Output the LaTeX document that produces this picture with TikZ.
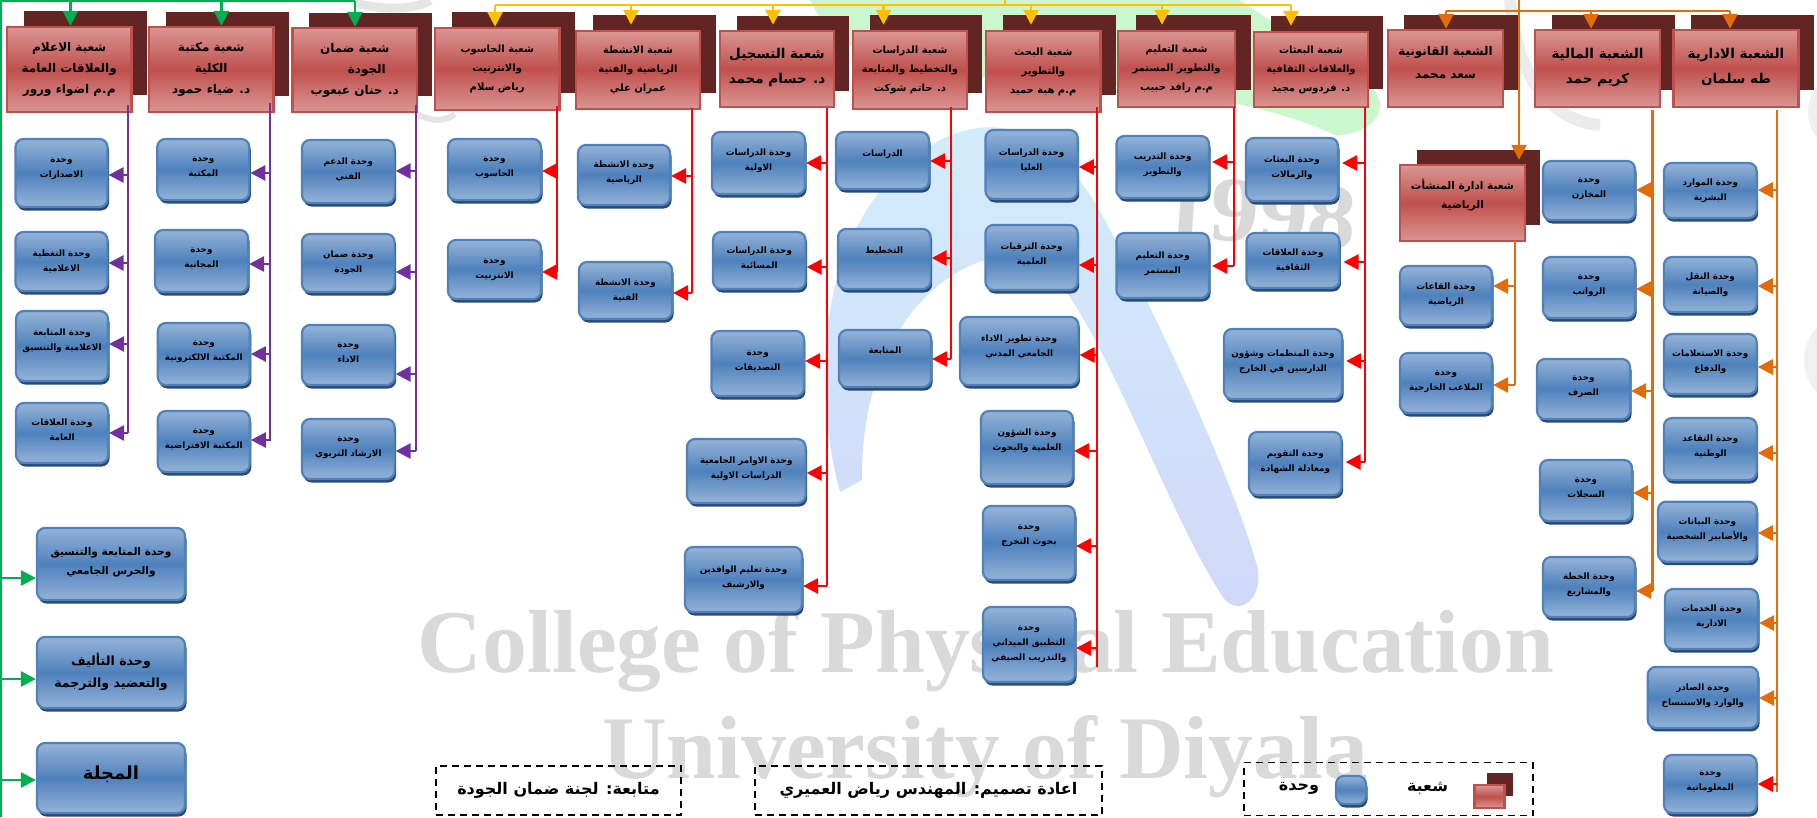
\documentclass[tikz,border=0pt]{standalone}
\usepackage{fontspec}
\usetikzlibrary{arrows.meta,shadows}
\TeXXeTstate=1
\newfontfamily\arabicfont[Script=Arabic]{DejaVu Sans}
\newfontfamily\markfont{Liberation Serif}
\newcommand{\ar}[1]{\beginR #1\endR}
\newcommand{\lift}[1]{\\[\dimexpr #1pt*2-\baselineskip\relax]\mbox{}}
\definecolor{secback}{HTML}{632523}
\definecolor{secedge}{HTML}{C0504D}
\definecolor{seclight}{HTML}{DA9694}
\definecolor{unitedge}{HTML}{4F81BD}
\definecolor{unitlight}{HTML}{95B3D7}
\definecolor{unitdark}{HTML}{2A4A72}
\definecolor{markgray}{HTML}{D9D9D9}
\definecolor{markgreen}{HTML}{CBF7CF}
\definecolor{markcyan}{HTML}{D3EDFB}
\definecolor{markblue}{HTML}{D0D8F9}
\definecolor{linegreen}{HTML}{00B050}
\definecolor{lineyellow}{HTML}{FFC000}
\definecolor{linepurple}{HTML}{7030A0}
\definecolor{lineorange}{HTML}{E36C0A}
\tikzset{
  secbox/.style 2 args={draw=secedge,line width=2.4pt,top color=seclight,bottom color=seclight,middle color=secedge,
    minimum width=#1,minimum height=#2,inner sep=0pt,align=center,text=black,font=\arabicfont\bfseries\fontsize{10}{19}\selectfont},
  secbig/.style={font=\arabicfont\bfseries\fontsize{12}{21}\selectfont},
  sechuge/.style={font=\arabicfont\bfseries\fontsize{13.5}{25}\selectfont},
  unitbox/.style 2 args={draw=unitedge,line width=2.2pt,rounded corners=8pt,top color=unitlight,bottom color=unitlight,middle color=unitedge,
    copy shadow={shadow xshift=1.5pt,shadow yshift=-3.5pt,fill=unitdark,draw=none,opacity=1},
    minimum width=#1,minimum height=#2,inner sep=0pt,align=center,text=black,font=\arabicfont\bfseries\fontsize{8.8}{15}\selectfont},
  dashbox/.style 2 args={draw=black,line width=1.7pt,dash pattern=on 7pt off 5pt,minimum width=#1,minimum height=#2,
    inner sep=0pt,font=\arabicfont\bfseries\fontsize{16}{18}\selectfont},
  legtext/.style={font=\arabicfont\bfseries\fontsize{16}{18}\selectfont},
  marktext/.style={text=markgray,anchor=base,font=\markfont\bfseries\fontsize{89.5}{90}\selectfont},
  tiptri/.style={-{Triangle[length=15pt,width=15pt]}},
  trunk/.style={line width=2.1pt},
  stem/.style={line width=2.8pt,tiptri},
}
\begin{document}
\begin{tikzpicture}[x=1pt,y=-1pt,join=miter]
\useasboundingbox (0,0) rectangle (1817,817);
% faded logo behind the chart
\fill[markgreen] (810,0) .. controls (830,40) and (860,70) .. (1000,78) .. controls (1150,85) and (1260,100) .. (1335,135) .. controls (1370,135) and (1395,110) .. (1370,85) .. controls (1330,50) and (1280,30) .. (1240,0) -- cycle;
\shade[top color=markcyan,bottom color=markblue] (840,492) .. controls (810,380) and (815,210) .. (940,140) .. controls (1000,110) and (1060,130) .. (1110,230) .. controls (1170,340) and (1240,500) .. (1258,570) .. controls (1262,600) and (1240,615) .. (1225,600) .. controls (1170,520) and (1110,340) .. (1050,270) .. controls (1000,225) and (860,290) .. (862,480) -- cycle;
\fill[black!6] (1850,112) circle (42);
\fill[black!6] (1850,360) circle (46);
\draw[black!10,line width=9pt] (355,3) .. controls (390,12) and (420,8) .. (430,0);
\draw[black!10,line width=6pt] (416,113) .. controls (430,122) and (445,122) .. (455,114);
\draw[black!8,line width=12pt] (1510,0) .. controls (1515,60) and (1540,120) .. (1600,125);
\node[marktext,rotate=-4,xscale=1.05,font=\markfont\bfseries\fontsize{93}{93}\selectfont] (year) at (1257,243) {1998};
\node[marktext] (college) at (986,672) {College of Physical Education};
\node[marktext] (univ) at (985,778) {University of Diyala};
% dark backs of the sections
\foreach \xa/\ya/\xb/\yb in {24/11/147/95,166/12/289/96,309/13/432/96,452/12/575/93,593/15/716/93,737/16/849/91,870/15/982/93,1003/15/1116/95,1136/15/1251/90,1271/16/1383/89,1404/15/1518/90,1552/15/1675/90,1691/15/1814/90,1417/150/1540/225}
  \fill[secback] (\xa,\ya) rectangle (\xb,\yb);
% sections
\node[secbox={124.5}{85},secbig] (s1) at (69.2,69.5) {\ar{شعبة الاعلام}\\\ar{والعلاقات العامة}\\\ar{م.م اضواء ورور}};
\node[secbox={124.5}{85},secbig] (s2) at (211.2,69.5) {\ar{شعبة مكتبة}\\\ar{الكلية}\\\ar{د. ضياء حمود}};
\node[secbox={124.5}{84},secbig] (s3) at (354.8,70) {\ar{شعبة ضمان}\\\hspace{24pt}\ar{الجودة}\\\ar{د. حنان عبعوب}};
\node[secbox={124.5}{82}] (s4) at (497.2,69) {\ar{شعبة الحاسوب}\\\ar{والانترنيت}\\\ar{رياض سلام}};
\node[secbox={124}{78}] (s5) at (638,70) {\ar{شعبة الانشطة}\\\ar{الرياضية والفنية}\\\ar{عمران علي}};
\node[secbox={114}{76},sechuge] (s6) at (777,69) {\ar{شعبة التسجيل}\\\ar{د. حسام محمد}\lift{3}};
\node[secbox={114}{78}] (s7) at (910,70) {\ar{شعبة الدراسات}\\\ar{والتخطيط والمتابعة}\\\ar{د. حاتم شوكت}};
\node[secbox={114.6}{81}] (s8) at (1043.3,71.5) {\ar{شعبة البحث}\\\ar{والتطوير}\\\ar{م.م هبة حميد}};
\node[secbox={117}{76}] (s9) at (1176.5,69) {\ar{شعبة التعليم}\\\ar{والتطوير المستمر}\\\ar{م.م رافد حبيب}};
\node[secbox={114}{75}] (s10) at (1311,69.5) {\ar{شعبة البعثات}\\\ar{والعلاقات الثقافية}\\\ar{د. فردوس مجيد}};
\node[secbox={115}{77},font=\arabicfont\bfseries\fontsize{12}{23}\selectfont] (s11) at (1445.5,68.5) {\ar{الشعبة القانونية}\\\ar{سعد محمد}\lift{6}};
\node[secbox={125}{77},sechuge] (s12) at (1597.5,68.5) {\ar{الشعبة المالية}\\\ar{كريم حمد}\lift{3}};
\node[secbox={125}{77},sechuge] (s13) at (1736,68.5) {\ar{الشعبة الادارية}\\\ar{طه سلمان}\lift{3}};
\node[secbox={125}{76},font=\arabicfont\bfseries\fontsize{10.5}{19}\selectfont] (s14) at (1462.5,203) {\ar{شعبة ادارة المنشأت}\\\ar{الرياضية}\lift{9}};
% units under each section
\node[unitbox={92}{68}] (a1) at (61.5,173) {\ar{وحدة}\\\ar{الاصدارات}\lift{5}};
\node[unitbox={92}{59}] (a2) at (61.5,261.5) {\ar{وحدة التغطية}\\\ar{الاعلامية}\lift{1}};
\node[unitbox={92}{70}] (a3) at (62,346) {\ar{وحدة المتابعة}\\\ar{الاعلامية والتنسيق}\lift{6}};
\node[unitbox={92}{60}] (a4) at (62,433) {\ar{وحدة العلاقات}\\\ar{العامة}\lift{3}};
\node[unitbox={92}{61}] (b1) at (203.3,169.5) {\ar{وحدة}\\\ar{المكتبة}\lift{3}};
\node[unitbox={93}{62}] (b2) at (201.5,261) {\ar{وحدة}\\\ar{المجانية}\lift{3}};
\node[unitbox={92}{62}] (b3) at (203.8,354) {\ar{وحدة}\\\ar{المكتبة الالكترونية}\lift{3}};
\node[unitbox={92}{61}] (b4) at (203.8,441.5) {\ar{وحدة}\\\ar{المكتبة الافتراضية}\lift{3}};
\node[unitbox={92.6}{63}] (c1) at (348.3,171.5) {\ar{وحدة الدعم}\\\ar{الفني}\lift{3}};
\node[unitbox={92.6}{58}] (c2) at (348.3,263) {\ar{وحدة ضمان}\\\ar{الجودة}\lift{1}};
\node[unitbox={92.6}{60}] (c3) at (348.3,355) {\ar{وحدة}\\\ar{الاداء}\lift{2}};
\node[unitbox={92.6}{60}] (c4) at (348.3,449) {\ar{وحدة}\\\ar{الارشاد التربوي}\lift{2}};
\node[unitbox={93}{61}] (d1) at (494.5,169.5) {\ar{وحدة}\\\ar{الحاسوب}\lift{3}};
\node[unitbox={93}{59}] (d2) at (494.5,269.5) {\ar{وحدة}\\\ar{الانترنيت}\lift{1}};
\node[unitbox={92}{60}] (e1) at (624,175) {\ar{وحدة الانشطة}\\\ar{الرياضية}\lift{3}};
\node[unitbox={93}{57}] (e2) at (625.5,290.5) {\ar{وحدة الانشطة}\\\ar{الفنية}\lift{1}};
\node[unitbox={93}{62}] (f1) at (758.5,163) {\ar{وحدة الدراسات}\\\ar{الاولية}\lift{3}};
\node[unitbox={92.6}{57}] (f2) at (759.3,260.5) {\ar{وحدة الدراسات}\\\ar{المسائية}\lift{3}};
\node[unitbox={92.5}{65}] (f3) at (757.7,363.5) {\ar{وحدة}\\\ar{التصديقات}\lift{3}};
\node[unitbox={118.6}{64}] (f4) at (746.3,471) {\ar{وحدة الاوامر الجامعية}\\\ar{الدراسات الاولية}\lift{3}};
\node[unitbox={117}{65}] (f5) at (743.5,579.5) {\ar{وحدة تعليم الوافدين}\\\ar{والارشيف}\lift{3}};
\node[unitbox={93}{57}] (g1) at (882.5,160.5) {\ar{الدراسات}\lift{7}};
\node[unitbox={92.6}{60}] (g2) at (884.3,259) {\ar{التخطيط}\lift{9}};
\node[unitbox={92}{57}] (g3) at (885,358.5) {\ar{المتابعة}\lift{8}};
\node[unitbox={92.2}{69}] (h1) at (1031.6,164.5) {\ar{وحدة الدراسات}\\\ar{العليا}\lift{5}};
\node[unitbox={92.2}{65}] (h2) at (1031.6,257.5) {\ar{وحدة الترقيات}\\\ar{العلمية}\lift{4}};
\node[unitbox={118.5}{68}] (h3) at (1019.2,351) {\ar{وحدة تطوير الاداء}\\\ar{الجامعي المدني}\lift{5}};
\node[unitbox={92}{73}] (h4) at (1027,447.5) {\ar{وحدة الشؤون}\\\ar{العلمية والبحوث}\lift{8}};
\node[unitbox={92}{74}] (h5) at (1029,543) {\ar{وحدة}\\\ar{بحوث التخرج}\lift{8}};
\node[unitbox={92}{75}] (h6) at (1029,644.5) {\ar{وحدة}\\\ar{التطبيق الميداني}\\\ar{والتدريب الصيفي}\lift{1}};
\node[unitbox={92.6}{62}] (i1) at (1162.7,167) {\ar{وحدة التدريب}\\\ar{والتطوير}\lift{3}};
\node[unitbox={92.6}{65}] (i2) at (1162.7,265.5) {\ar{وحدة التعليم}\\\ar{المستمر}\lift{3}};
\node[unitbox={92}{63}] (j1) at (1292,169.5) {\ar{وحدة البعثات}\\\ar{والزمالات}\lift{3}};
\node[unitbox={92.9}{55}] (j2) at (1293,260.5) {\ar{وحدة العلاقات}\\\ar{الثقافية}\lift{1}};
\node[unitbox={118}{70}] (j3) at (1283,364) {\ar{وحدة المنظمات وشؤون}\\\ar{الدارسين في الخارج}\lift{3}};
\node[unitbox={92.5}{63}] (j4) at (1295.3,463.5) {\ar{وحدة التقويم}\\\ar{ومعادلة الشهادة}\lift{3}};
\node[unitbox={92}{59}] (k1) at (1446,295.5) {\ar{وحدة القاعات}\\\ar{الرياضية}\lift{2}};
\node[unitbox={92}{60}] (k2) at (1446,383) {\ar{وحدة}\\\ar{الملاعب الخارجية}\lift{2}};
\node[unitbox={92}{59}] (l1) at (1589,190.5) {\ar{وحدة}\\\ar{المخازن}\lift{3}};
\node[unitbox={92}{61}] (l2) at (1589,287.5) {\ar{وحدة}\\\ar{الرواتب}\lift{3}};
\node[unitbox={93}{60}] (l3) at (1583.5,389) {\ar{وحدة}\\\ar{الصرف}\lift{3}};
\node[unitbox={92}{61}] (l4) at (1586,490.5) {\ar{وحدة}\\\ar{السجلات}\lift{3}};
\node[unitbox={92}{60}] (l5) at (1589,587) {\ar{وحدة الخطة}\\\ar{والمشاريع}\lift{3}};
\node[unitbox={92.7}{55}] (m1) at (1710.3,190.5) {\ar{وحدة الموارد}\\\ar{البشرية}\lift{1}};
\node[unitbox={92.7}{55}] (m2) at (1710.3,284.5) {\ar{وحدة النقل}\\\ar{والصيانة}\lift{1}};
\node[unitbox={92.7}{60}] (m3) at (1710.3,364) {\ar{وحدة الاستعلامات}\\\ar{والدفاع}\lift{3}};
\node[unitbox={92.7}{62}] (m4) at (1710.3,449) {\ar{وحدة التقاعد}\\\ar{الوطنية}\lift{3}};
\node[unitbox={98.7}{60}] (m5) at (1707.4,531.7) {\ar{وحدة البيانات}\\\ar{والأضابير الشخصية}\lift{3}};
\node[unitbox={93}{60}] (m6) at (1711.5,619) {\ar{وحدة الخدمات}\\\ar{الادارية}\lift{3}};
\node[unitbox={110.3}{61}] (m7) at (1702.9,697.4) {\ar{وحدة الصادر}\\\ar{والوارد والاستنساخ}\lift{3}};
\node[unitbox={92.7}{58}] (m8) at (1710.3,784) {\ar{وحدة}\\\ar{المعلوماتية}\lift{3}};
\node[unitbox={148}{72},font=\arabicfont\bfseries\fontsize{10.6}{19}\selectfont] (n1) at (111,564) {\ar{وحدة المتابعة والتنسيق}\\\ar{والحرس الجامعي}\lift{3}};
\node[unitbox={148}{71},font=\arabicfont\bfseries\fontsize{12.6}{22}\selectfont] (n2) at (111,672.5) {\ar{وحدة التأليف}\\\ar{والتعضيد والترجمة}\lift{2}};
\node[unitbox={148}{70},font=\arabicfont\bfseries\fontsize{18}{22}\selectfont] (n3) at (111,778) {\ar{المجلة}\lift{5}};
% legend and credits
\node[dashbox={245}{49}] (credit1) at (558.5,790.5) {\ar{متابعة: لجنة ضمان الجودة}};
\node[dashbox={347}{49}] (credit2) at (928.5,790.5) {\ar{اعادة تصميم: المهندس رياض العميري}};
\node[dashbox={289}{53}] (legend) at (1388.5,789) {};
\node[legtext] (legunit) at (1299,788) {\ar{وحدة}};
\node[legtext] (legsec) at (1427.5,788) {\ar{شعبة}};
\node[unitbox={30}{28}] (legblue) at (1351,790) {};
\fill[secback] (1486.5,773) rectangle (1513,796);
\node[secbox={30}{23}] (legred) at (1489.5,796.5) {};
% green links
\coordinate (tgreen) at (1,1);
\draw[linegreen,trunk] (1,817) -- (tgreen) -- (355,1);
\foreach \sect/\x in {s1/70.4,s2/221.4,s3/355}
  \draw[linegreen,stem] (\x,1) -- (\x,0 |- \sect.north);
\foreach \unit/\y in {n1/578,n2/679,n3/780}
  \draw[linegreen,stem] (tgreen |- 0,\y) -- (\unit.west |- 0,\y);
% yellow links
\coordinate (tyellow) at (495,5);
\draw[lineyellow,trunk] (tyellow) -- (1291,5);
\draw[lineyellow,trunk] (1005,0) -- (1005,5);
\draw[lineyellow,stem] (tyellow) -- (495,0 |- s4.north);
\foreach \sect/\x in {s5/631,s6/773,s7/883.5,s8/1031,s9/1162,s10/1291}
  \draw[lineyellow,stem,shorten >=5pt] (\x,5) -- (\x,0 |- \sect.north);
% orange links on top
\coordinate (torange) at (1446,11);
\draw[lineorange,trunk] (torange) -- (1730,11);
\draw[lineorange,stem] (torange) -- (1446,0 |- s11.north);
\draw[lineorange,stem] (1591,11) -- (1591,0 |- s12.north);
\draw[lineorange,stem] (1730,11) -- (1730,0 |- s13.north);
\draw[lineorange,stem,shorten >=4pt] (1519,0) -- (1519,0 |- s14.north);
% purple trunks
\coordinate (tp1) at (128.4,105);
\coordinate (tp2) at (269.6,103);
\coordinate (tp3) at (415.6,105);
\draw[linepurple,trunk] (tp1) -- (tp1 |- 0,433);
\draw[linepurple,trunk] (tp2) -- (tp2 |- 0,441);
\draw[linepurple,trunk] (tp3) -- (tp3 |- 0,451);
\foreach \unit/\y in {a1/175,a2/263,a3/344,a4/433}
  \draw[linepurple,stem] (tp1 |- 0,\y) -- (\unit.east |- 0,\y);
\foreach \unit/\y in {b1/173,b2/264,b3/354,b4/440}
  \draw[linepurple,stem] (tp2 |- 0,\y) -- (\unit.east |- 0,\y);
\foreach \unit/\y in {c1/171,c2/272,c3/374,c4/451}
  \draw[linepurple,stem] (tp3 |- 0,\y) -- (\unit.east |- 0,\y);
% red trunks
\coordinate (tr4) at (557,106);
\coordinate (tr5) at (692,108);
\coordinate (tr6) at (826.6,108);
\coordinate (tr7) at (950.7,107);
\coordinate (tr8) at (1097.4,107);
\coordinate (tr9) at (1233.7,107);
\coordinate (tr10) at (1365,107);
\draw[red,trunk] (tr4) -- (tr4 |- 0,272);
\draw[red,trunk] (tr5) -- (tr5 |- 0,293);
\draw[red,trunk] (tr6) -- (tr6 |- 0,586);
\draw[red,trunk] (tr7) -- (tr7 |- 0,359);
\draw[red,trunk] (tr8) -- (tr8 |- 0,667);
\draw[red,trunk] (tr9) -- (tr9 |- 0,266);
\draw[red,trunk] (tr10) -- (tr10 |- 0,462);
\foreach \unit/\y in {d1/171,d2/272}
  \draw[red,stem] (tr4 |- 0,\y) -- (\unit.east |- 0,\y);
\foreach \unit/\y in {e1/176,e2/293}
  \draw[red,stem] (tr5 |- 0,\y) -- (\unit.east |- 0,\y);
\foreach \unit/\y in {f1/163,f2/267,f3/361,f4/473,f5/586}
  \draw[red,stem] (tr6 |- 0,\y) -- (\unit.east |- 0,\y);
\foreach \unit/\y in {g1/161,g2/258,g3/359}
  \draw[red,stem] (tr7 |- 0,\y) -- (\unit.east |- 0,\y);
\foreach \unit/\y in {h1/167,h2/265,h3/355,h4/451,h5/546,h6/648}
  \draw[red,stem] (tr8 |- 0,\y) -- (\unit.east |- 0,\y);
\foreach \unit/\y in {i1/162,i2/266}
  \draw[red,stem,shorten >=2pt] (tr9 |- 0,\y) -- (\unit.east |- 0,\y);
\foreach \unit/\y in {j1/163,j2/262,j3/361,j4/462}
  \draw[red,stem,shorten >=3pt] (tr10 |- 0,\y) -- (\unit.east |- 0,\y);
% orange trunks
\coordinate (to11) at (1515,241);
\coordinate (to12) at (1652.5,110);
\coordinate (to13) at (1776.7,110);
\draw[lineorange,trunk] (to11) -- (to11 |- 0,385);
\draw[lineorange,trunk] (to12) -- (to12 |- 0,591);
\draw[lineorange,trunk] (to13) -- (to13 |- 0,792);
\foreach \unit/\y in {k1/286,k2/385}
  \draw[lineorange,stem] (to11 |- 0,\y) -- (\unit.east |- 0,\y);
\foreach \unit/\y in {l1/190,l2/289,l3/391,l4/493,l5/591}
  \draw[lineorange,stem] (to12 |- 0,\y) -- (\unit.east |- 0,\y);
\foreach \unit/\y in {m1/190,m2/286,m3/367,m4/453,m5/533,m6/623,m7/698}
  \draw[lineorange,stem] (to13 |- 0,\y) -- (\unit.east |- 0,\y);
\draw[red,stem] (to13 |- 0,784) -- (m8.east |- 0,784);
\end{tikzpicture}
\end{document}
